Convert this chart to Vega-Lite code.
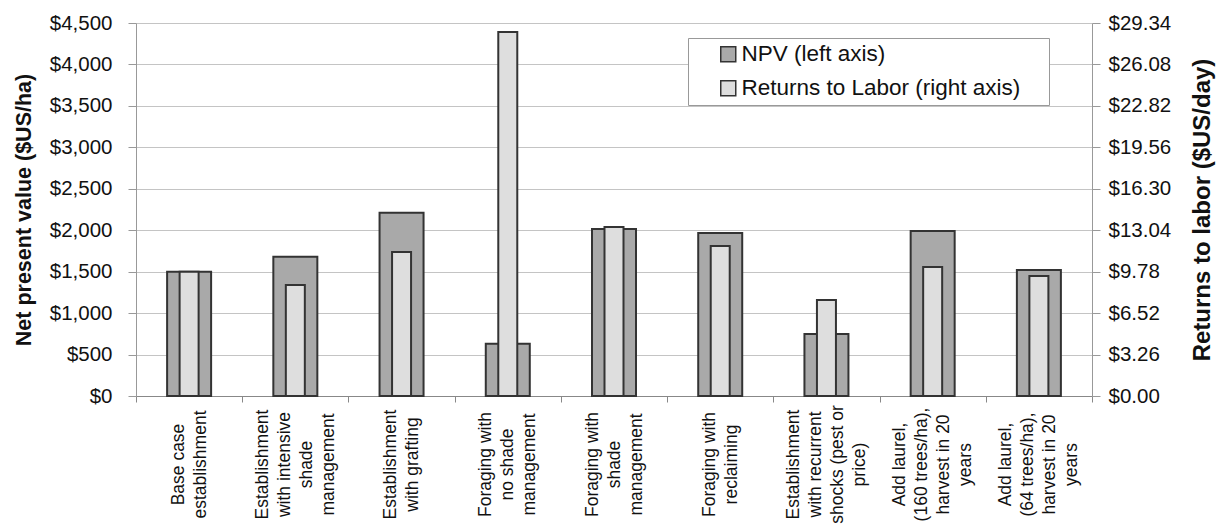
{
  "$schema": "https://vega.github.io/schema/vega-lite/v6.json",
  "autosize": {"type": "none"},
  "width": 956,
  "height": 373,
  "padding": {"left": 136, "top": 23, "right": 129, "bottom": 128},
  "background": "white",
  "config": {
    "font": "Liberation Sans",
    "view": {"stroke": null},
    "axis": {"labelFont": "Liberation Sans", "titleFont": "Liberation Sans", "labelColor": "#111", "titleColor": "#111"}
  },
  "data": {
    "values": [
      {"scenario": "Base case|establishment", "npv": 1500, "labor": 9.78},
      {"scenario": "Establishment|with intensive|shade|management", "npv": 1680, "labor": 8.73},
      {"scenario": "Establishment|with grafting", "npv": 2210, "labor": 11.33},
      {"scenario": "Foraging with|no shade|management", "npv": 630, "labor": 28.63},
      {"scenario": "Foraging with|shade|management", "npv": 2015, "labor": 13.29},
      {"scenario": "Foraging with|reclaiming", "npv": 1966, "labor": 11.8},
      {"scenario": "Establishment|with recurrent|shocks (pest or|price)", "npv": 748, "labor": 7.55},
      {"scenario": "Add laurel,|(160 trees/ha),|harvest in 20|years", "npv": 1990, "labor": 10.15},
      {"scenario": "Add laurel,|(64 trees/ha),|harvest in 20|years", "npv": 1520, "labor": 9.44}
    ]
  },
  "encoding": {
    "x": {
      "field": "scenario",
      "type": "nominal",
      "sort": null,
      "scale": {"paddingInner": 0, "paddingOuter": 0},
      "axis": {
        "title": null,
        "labelExpr": "split(datum.label, '|')",
        "labelAngle": -90,
        "labelAlign": "center",
        "labelBaseline": "middle",
        "labelFontSize": 17.5,
        "labelLineHeight": 22,
        "labelPadding": 62,
        "labelOffset": {
          "condition": [
            {"test": "length(split(datum.label, '|')) == 4", "value": -33},
            {"test": "length(split(datum.label, '|')) == 3", "value": -22}
          ],
          "value": -11
        },
        "labelOverlap": false,
        "labelLimit": 0,
        "tickBand": "extent",
        "tickSize": 6,
        "tickColor": "#888",
        "domainColor": "#888",
        "grid": false
      }
    }
  },
  "layer": [
    {
      "mark": {"type": "bar", "width": 44, "stroke": "#333", "strokeWidth": 2},
      "encoding": {
        "y": {
          "field": "npv",
          "type": "quantitative",
          "scale": {"domain": [0, 4500], "nice": false},
          "axis": {
            "title": "Net present value ($US/ha)",
            "titleFontSize": 21.5,
            "titleFontWeight": "bold",
            "titlePadding": 14,
            "values": [0, 500, 1000, 1500, 2000, 2500, 3000, 3500, 4000, 4500],
            "format": "$,.0f",
            "labelFontSize": 20.5,
            "labelPadding": 16,
            "tickSize": 8,
            "tickColor": "#999",
            "domainColor": "#999",
            "grid": true,
            "gridColor": "#c4c4c4",
            "gridWidth": 1.2
          }
        },
        "fill": {
          "datum": "NPV (left axis)",
          "type": "nominal",
          "scale": {"domain": ["NPV (left axis)", "Returns to Labor (right axis)"], "range": ["#a9a9a9", "#dedede"]},
          "legend": {
            "title": null,
            "orient": "none",
            "legendX": 552,
            "legendY": 15,
            "direction": "vertical",
            "symbolType": "square",
            "symbolSize": 225,
            "symbolStrokeColor": "#333",
            "symbolStrokeWidth": 1.5,
            "labelFontSize": 22.5,
            "labelFont": "Liberation Sans",
            "labelColor": "#111",
            "labelLimit": 0,
            "labelOffset": 2,
            "labelExpr": "datum.label + ' \u2800'",
            "rowPadding": 11,
            "padding": 5,
            "symbolOffset": 24,
            "strokeColor": "#999",
            "fillColor": "white"
          }
        }
      }
    },
    {
      "mark": {"type": "bar", "width": 19, "stroke": "#333", "strokeWidth": 2},
      "encoding": {
        "y": {
          "field": "labor",
          "type": "quantitative",
          "scale": {"domain": [0, 29.34], "nice": false},
          "axis": {
            "orient": "right",
            "title": "Returns to labor ($US/day)",
            "titleFontSize": 24,
            "titleFontWeight": "bold",
            "titleAngle": -90,
            "titleBaseline": "top",
            "titlePadding": 20,
            "values": [0, 3.26, 6.52, 9.78, 13.04, 16.3, 19.56, 22.82, 26.08, 29.34],
            "format": "$.2f",
            "labelFontSize": 20.5,
            "labelPadding": 8,
            "tickSize": 8,
            "tickColor": "#999",
            "domainColor": "#999",
            "grid": false
          }
        },
        "fill": {"datum": "Returns to Labor (right axis)", "type": "nominal"}
      }
    }
  ],
  "resolve": {"scale": {"y": "independent"}}
}
